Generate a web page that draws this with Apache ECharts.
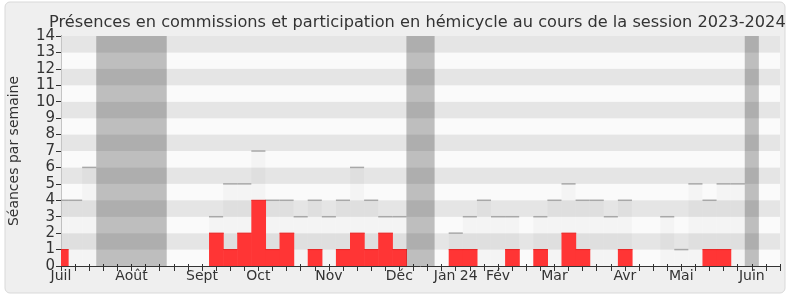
<!DOCTYPE html>
<html>
<head>
<meta charset="utf-8">
<script src="https://cdn.jsdelivr.net/npm/echarts@6/dist/echarts.min.js"></script>
<style>html,body{margin:0;padding:0;background:#fff}#c{width:790px;height:300px}</style>
</head>
<body>
<div id="c"></div>
<script>
// Week index 0 = first week of July 2023
const monthLabels = ['Juil','Août','Sept','Oct','Nov','Déc','Jan 24','Fév','Mar','Avr','Mai','Juin'];
const monthWeekIdx = [0,5,10,14,19,24,28,31,35,40,44,49];
const commissions = [4,4,6,0,0,0,0,0,0,0,0,3,5,5,7,4,4,3,4,3,4,6,4,3,3,0,0,0,2,3,4,3,3,0,3,4,5,4,4,3,4,0,0,3,1,5,4,5,5,0,0,0];
const hemicycle   = [1,0,0,0,0,0,0,0,0,0,0,2,1,2,4,1,2,0,1,0,1,2,1,2,1,0,0,0,1,1,0,0,1,0,1,0,2,1,0,0,1,0,0,0,0,0,1,1,0,0,0,0];
const vacationStart = [2.5, 24.5, 48.5];
const vacationEnd   = [7.5, 26.5, 49.5];
const yTicks = [0,1,2,3,4,5,6,7,8,9,10,11,12,13,14];

const FONT = 'DejaVu Sans';
const chart = echarts.init(document.getElementById('c'), null, {renderer:'canvas'});

function barRenderer(fill, lineColor, lineWidth, overlap){
  return function(params, api){
    const i = api.value(0), v = api.value(1);
    if (!v) return null;
    const p0 = api.coord([i - 0.5, v]);
    const p1 = api.coord([i + 0.5, 0]);
    const cs = params.coordSys;
    const r = echarts.graphic.clipRectByRect(
      {x:p0[0], y:p0[1], width:p1[0]-p0[0] + overlap, height:p1[1]-p0[1]},
      {x:cs.x, y:cs.y, width:cs.width, height:cs.height});
    if (!r) return null;
    const children = [{type:'rect', shape:r, style:{fill:fill}}];
    if (lineColor) children.push({type:'line', shape:{x1:r.x, y1:p0[1], x2:r.x + r.width, y2:p0[1]}, style:{stroke:lineColor, lineWidth:lineWidth}});
    return {type:'group', children:children};
  };
}

const commData = commissions.map((v,i)=>[i,v]);
const hemiData = hemicycle.map((v,i)=>[i,v]);
const vacData = vacationStart.map((s,k)=>[s, vacationEnd[k]]);

const labelMap = {};
monthWeekIdx.forEach((w,k)=>{labelMap[w]=monthLabels[k];});

chart.setOption({
  backgroundColor:'#ffffff',
  animation:false,
  textStyle:{fontFamily:FONT},
  graphic:[{type:'rect', z:-100, shape:{x:5, y:2, width:780, height:291, r:5}, style:{fill:'#efefef', stroke:'#d9d9d9', lineWidth:1}}],
  title:{
    text:'Présences en commissions et participation en hémicycle au cours de la session 2023-2024',
    left:44, top:10,
    textStyle:{fontFamily:FONT, fontSize:16.2, fontWeight:'normal', color:'#333'}
  },
  grid:{left:61, right:10, top:36, bottom:34, outerBoundsMode:'none', containLabel:false},
  xAxis:[{
    type:'value', min:0, max:51, interval:1, position:'bottom',
    axisLine:{show:true, onZero:false, lineStyle:{color:'#333', width:1}},
    axisTick:{show:true, length:5, lineStyle:{color:'#333'}},
    axisLabel:{show:true, margin:3, fontSize:14, fontFamily:FONT, color:'#333',
      formatter:function(v){ return labelMap[Math.round(v)] || ''; }},
    splitLine:{show:false}
  },{
    type:'value', min:0, max:51, interval:1, position:'top',
    axisLine:{show:false},
    axisTick:{show:true, length:2, inside:false, lineStyle:{color:'#333'}},
    axisLabel:{show:false}, splitLine:{show:false}
  }],
  yAxis:[{
    type:'value', min:0, max:14, interval:1,
    name:'Séances par semaine', nameLocation:'middle', nameRotate:90, nameGap:40,
    nameTextStyle:{fontFamily:FONT, fontSize:14, color:'#333'},
    axisLine:{show:true, onZero:false, lineStyle:{color:'#333', width:1}},
    axisTick:{show:true, length:5, lineStyle:{color:'#333'}},
    axisLabel:{margin:6, fontSize:15, fontFamily:FONT, color:'#333',
      formatter:function(v){ return yTicks.indexOf(v) >= 0 ? String(v) : ''; }},
    splitLine:{show:false},
    splitArea:{show:true, areaStyle:{color:['#fafafa','#e5e5e5']}}
  },{
    type:'value', min:0, max:14, interval:1, position:'right',
    axisLine:{show:true, lineStyle:{color:'#c4c4c4', width:1}},
    axisTick:{show:false}, axisLabel:{show:false}, splitLine:{show:false}
  }],
  series:[
    {type:'custom', name:'commissions', xAxisIndex:0, yAxisIndex:0, z:2,
     renderItem:barRenderer('rgba(0,0,0,0.022)', '#a8a8a8', 1.5, 0),
     encode:{x:0, y:1}, data:commData},
    {type:'custom', name:'hemicycle', xAxisIndex:0, yAxisIndex:0, z:3,
     renderItem:barRenderer('#ff3535', '#e82222', 1, 0.6),
     encode:{x:0, y:1}, data:hemiData},
    {type:'custom', name:'vacances', xAxisIndex:0, yAxisIndex:0, z:4,
     renderItem:function(params, api){
       const a = api.coord([api.value(0), 14]);
       const b = api.coord([api.value(1), 0]);
       return {type:'rect', shape:{x:a[0], y:a[1], width:b[0]-a[0], height:b[1]-a[1]}, style:{fill:'rgba(0,0,0,0.24)'}};
     },
     encode:{x:[0,1]}, data:vacData}
  ]
});
</script>
</body>
</html>
